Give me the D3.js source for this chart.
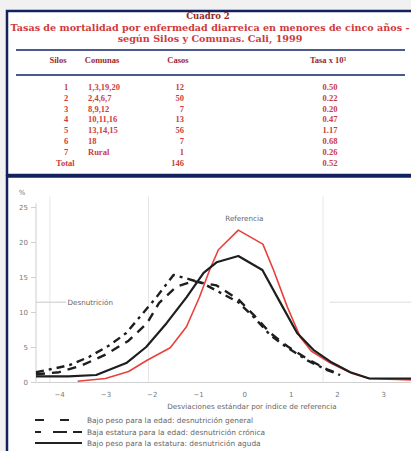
<!DOCTYPE html>
<html><head><meta charset="utf-8">
<script src="https://cdn.jsdelivr.net/npm/d3@7"></script>
<style>
html,body{margin:0;padding:0;background:#f1f1f1;}
svg{display:block;}
</style></head>
<body><svg id="c" width="411" height="451"></svg>
<script>
// ---- Table data ----
const tableTitle = "Cuadro 2";
const tableSubtitle1 = "Tasas de mortalidad por enfermedad diarreica en menores de cinco años -";
const tableSubtitle2 = "según Silos y Comunas. Cali, 1999";
const tableHeaders = ["Silos", "Comunas", "Casos", "Tasa x 10³"];
const tableSilos = ["1", "2", "3", "4", "5", "6", "7", "Total"];
const tableComunas = ["1,3,19,20", "2,4,6,7", "8,9,12", "10,11,16", "13,14,15", "18", "Rural", ""];
const tableCasos = [12, 50, 7, 13, 56, 7, 1, 146];
const tableTasa = ["0.50", "0.22", "0.20", "0.47", "1.17", "0.68", "0.26", "0.52"];

// ---- Chart data ----
const xTicks = [-4, -3, -2, -1, 0, 1, 2, 3];
const yTicks = [0, 5, 10, 15, 20, 25];
const refX = [-3.6, -3.0, -2.5, -2.1, -1.6, -1.25, -0.97, -0.75, -0.56, -0.13, 0.4, 0.63, 0.93, 1.21, 1.45, 1.86, 2.3, 2.7, 3.6];
const refY = [0.1, 0.5, 1.5, 3.1, 4.9, 7.9, 12.1, 16.0, 18.9, 21.7, 19.7, 16.0, 10.7, 6.4, 4.4, 2.7, 1.3, 0.5, 0.3];
const agudaX = [-4.5, -3.8, -3.2, -2.55, -2.12, -1.68, -1.25, -0.88, -0.6, -0.13, 0.39, 0.78, 1.14, 1.49, 1.86, 2.29, 2.7, 3.6];
const agudaY = [0.8, 0.8, 1.0, 2.7, 5.0, 8.4, 12.1, 15.6, 17.1, 18.0, 16.0, 11.3, 7.0, 4.6, 2.9, 1.4, 0.5, 0.5];
const cronicaX = [-4.5, -4.06, -3.78, -3.35, -2.9, -2.55, -2.18, -1.9, -1.53, -1.2, -0.9, -0.5, -0.13, 0.2, 0.56, 0.93, 1.36, 1.79, 2.07];
const cronicaY = [1.4, 2.0, 2.4, 3.6, 5.3, 7.0, 9.9, 12.1, 15.3, 14.7, 14.1, 12.7, 11.4, 9.3, 6.7, 4.9, 3.1, 1.7, 1.0];
const generalX = [-4.5, -4.0, -3.5, -3.0, -2.5, -2.1, -1.84, -1.47, -1.1, -0.6, -0.13, 0.2, 0.56, 0.93, 1.36, 1.79, 2.07];
const generalY = [1.1, 1.4, 2.4, 3.9, 5.9, 8.4, 11.3, 13.6, 14.4, 13.8, 11.8, 9.6, 7.0, 5.1, 3.3, 1.8, 1.1];
const refLineValue = 11.4;
const gridX = [-4.2, -2.07, 1.7];
const legendLabels = [
  "Bajo peso para la edad: desnutrición general",
  "Baja estatura para la edad: desnutrición crónica",
  "Bajo peso para la estatura: desnutrición aguda"
];

const svg = d3.select("#c");
const navy = "#13215e";

// ---- Panels ----
svg.append("rect").attr("x", 7).attr("y", 11).attr("width", 410).attr("height", 164)
  .attr("fill", "#fff").attr("stroke", navy).attr("stroke-width", 2.5);
svg.append("rect").attr("x", 7).attr("y", 176.5).attr("width", 410).attr("height", 290)
  .attr("fill", "#fff").attr("stroke", navy).attr("stroke-width", 2.5);

// ---- Table ----
const serif = "'Liberation Serif','DejaVu Serif',serif";
const wideSerif = "'DejaVu Serif','Liberation Serif',serif";
const tg = svg.append("g").attr("font-family", serif).attr("font-weight", "bold");
tg.append("text").attr("x", 208).attr("y", 19).attr("text-anchor", "middle")
  .attr("font-family", wideSerif)
  .attr("font-size", 8.5).attr("fill", "#8c2a2a").text(tableTitle);
tg.append("text").attr("x", 210).attr("y", 31).attr("text-anchor", "middle")
  .attr("font-family", wideSerif)
  .attr("font-size", 9.6).attr("fill", "#d03a3a").text(tableSubtitle1);
tg.append("text").attr("x", 210).attr("y", 42).attr("text-anchor", "middle")
  .attr("font-family", wideSerif)
  .attr("font-size", 9.6).attr("fill", "#d03a3a").text(tableSubtitle2);
tg.append("line").attr("x1", 16).attr("x2", 405).attr("y1", 50).attr("y2", 50)
  .attr("stroke", "#4a5a8a").attr("stroke-width", 2);
tg.append("line").attr("x1", 16).attr("x2", 405).attr("y1", 75).attr("y2", 75)
  .attr("stroke", "#4a5a8a").attr("stroke-width", 2);

const colX = [66, 88, 184, 330];
const colAnchor = ["middle", "start", "end", "middle"];
const headX = [58, 102, 178, 328];
tableHeaders.forEach((h, i) => {
  tg.append("text").attr("x", headX[i]).attr("y", 63).attr("text-anchor", "middle")
    .attr("font-size", 8.5).attr("fill", "#9a2a2a").text(h);
});
const rowY = d3.scaleLinear().domain([0, 7]).range([90, 165.6]);
tableSilos.forEach((s, i) => {
  const yy = rowY(i);
  const vals = [s, tableComunas[i], String(tableCasos[i]), tableTasa[i]];
  vals.forEach((v, j) => {
    tg.append("text").attr("x", (i === 7 && j === 0) ? 56 : colX[j]).attr("y", yy)
      .attr("text-anchor", (i === 7 && j === 0) ? "start" : colAnchor[j])
      .attr("font-size", 8.5).attr("fill", "#cc3c3c").text(v);
  });
});

// ---- Chart ----
const x = d3.scaleLinear().domain([-4.5, 3.6]).range([36, 411]);
const y = d3.scaleLinear().domain([0, 25]).range([382, 207]);
const sans = "'DejaVu Sans','Liberation Sans',sans-serif";
const cg = svg.append("g").attr("font-family", sans);

// faint grid lines
gridX.forEach(v => {
  cg.append("line").attr("x1", x(v)).attr("x2", x(v)).attr("y1", y(26.5)).attr("y2", y(0))
    .attr("stroke", "#e6e6e6").attr("stroke-width", 1);
});
// reference (desnutrición) line segments
cg.append("line").attr("x1", x(-4.5)).attr("x2", x(-3.85)).attr("y1", y(refLineValue)).attr("y2", y(refLineValue))
  .attr("stroke", "#c8c8c8").attr("stroke-width", 1);
cg.append("line").attr("x1", x(1.85)).attr("x2", x(3.6)).attr("y1", y(refLineValue)).attr("y2", y(refLineValue))
  .attr("stroke", "#dcdcdc").attr("stroke-width", 1);
cg.append("text").attr("x", x(-3.82)).attr("y", y(refLineValue) + 2.5)
  .attr("font-size", 7.2).attr("fill", "#666").text("Desnutrición");

// axes
const yAxis = d3.axisLeft(y).tickValues(yTicks).tickSize(5).tickPadding(3);
const ya = cg.append("g").attr("transform", `translate(${x(-4.5)},0)`).call(yAxis);
ya.select(".domain").attr("stroke", "#cfcfcf").attr("d", `M0,${y(25.5)}V${y(0)}`);
ya.selectAll(".tick line").attr("stroke", "#cfcfcf");
ya.selectAll(".tick text").attr("font-size", 7).attr("fill", "#777").attr("font-family", sans);
cg.append("text").attr("x", 22).attr("y", 195).attr("text-anchor", "middle")
  .attr("font-size", 7).attr("fill", "#777").text("%");

const xAxis = d3.axisBottom(x).tickValues(xTicks).tickSize(0).tickPadding(10).tickFormat(d3.format("d"));
const xa = cg.append("g").attr("transform", `translate(0,${y(0)})`).call(xAxis);
xa.select(".domain").attr("stroke", "#d0d0d0");
xa.selectAll(".tick text").attr("font-size", 7).attr("fill", "#777").attr("font-family", sans);
cg.append("text").attr("x", 252).attr("y", 409).attr("text-anchor", "middle")
  .attr("font-size", 7.2).attr("fill", "#666").text("Desviaciones estándar por índice de referencia");

// curves
const line = d3.line().x(d => x(d[0])).y(d => y(d[1]));
const series = [
  {xs: refX, ys: refY, color: "#e8403a", width: 1.6, dash: null},
  {xs: agudaX, ys: agudaY, color: "#1e1e1e", width: 2.2, dash: null},
  {xs: generalX, ys: generalY, color: "#1e1e1e", width: 2.4, dash: "9,7"},
  {xs: cronicaX, ys: cronicaY, color: "#1e1e1e", width: 2.4, dash: "8,5,3,5"}
];
series.forEach(s => {
  cg.append("path").datum(d3.zip(s.xs, s.ys)).attr("d", line)
    .attr("fill", "none").attr("stroke", s.color).attr("stroke-width", s.width)
    .attr("stroke-linejoin", "round")
    .attr("stroke-dasharray", s.dash);
});
cg.append("text").attr("x", x(0)).attr("y", 221).attr("text-anchor", "middle")
  .attr("font-size", 7.2).attr("fill", "#666").text("Referencia");

// legend
const legDash = ["9,16", "6,12,14", null];
const legY = [420, 432, 443];
legendLabels.forEach((lab, i) => {
  cg.append("line").attr("x1", 35).attr("x2", 82).attr("y1", legY[i]).attr("y2", legY[i])
    .attr("stroke", "#222").attr("stroke-width", 2.2).attr("stroke-dasharray", legDash[i]);
  cg.append("text").attr("x", 87).attr("y", legY[i] + 2.5)
    .attr("font-size", 7.4).attr("fill", "#666").text(lab);
});
</script>
</body></html>
